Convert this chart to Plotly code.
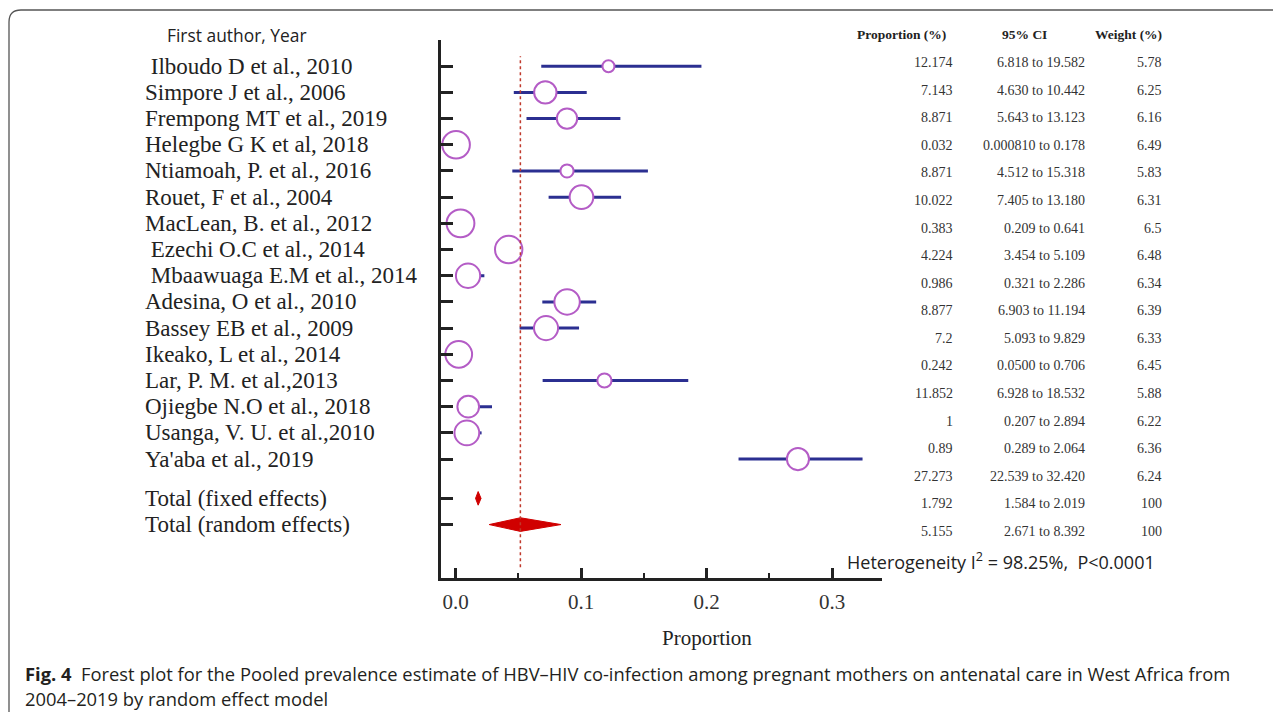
import plotly.graph_objects as go

W, H = 1281, 712
OFF = 8  # default page margin around the plot div

# study rows, top to bottom (values as printed in the table, in %)
studies = [
    " Ilboudo D et al., 2010",
    "Simpore J et al., 2006",
    "Frempong MT et al., 2019",
    "Helegbe G K et al, 2018",
    "Ntiamoah, P. et al., 2016",
    "Rouet, F et al., 2004",
    "MacLean, B. et al., 2012",
    " Ezechi O.C et al., 2014",
    " Mbaawuaga E.M et al., 2014",
    "Adesina, O et al., 2010",
    "Bassey EB et al., 2009",
    "Ikeako, L et al., 2014",
    "Lar, P. M. et al.,2013",
    "Ojiegbe N.O et al., 2018",
    "Usanga, V. U. et al.,2010",
    "Ya'aba et al., 2019",
]
prop_pct = ["12.174", "7.143", "8.871", "0.032", "8.871", "10.022", "0.383", "4.224",
            "0.986", "8.877", "7.2", "0.242", "11.852", "1", "0.89", "27.273"]
ci_low = ["6.818", "4.630", "5.643", "0.000810", "4.512", "7.405", "0.209", "3.454",
          "0.321", "6.903", "5.093", "0.0500", "6.928", "0.207", "0.289", "22.539"]
ci_high = ["19.582", "10.442", "13.123", "0.178", "15.318", "13.180", "0.641", "5.109",
           "2.286", "11.194", "9.829", "0.706", "18.532", "2.894", "2.064", "32.420"]
weight_pct = ["5.78", "6.25", "6.16", "6.49", "5.83", "6.31", "6.5", "6.48",
              "6.34", "6.39", "6.33", "6.45", "5.88", "6.22", "6.36", "6.24"]

total_labels = ["Total (fixed effects)", "Total (random effects)"]
total_prop = ["1.792", "5.155"]
total_low = ["1.584", "2.671"]
total_high = ["2.019", "8.392"]
total_weight = ["100", "100"]

x_ticks = [0.0, 0.1, 0.2, 0.3]
x_tick_labels = ["0.0", "0.1", "0.2", "0.3"]
x_minor_ticks = [0.05, 0.15, 0.25]

heterogeneity = "Heterogeneity I<sup>2</sup> = 98.25%,  P<0.0001"
caption_1 = ("<b>Fig. 4</b>  Forest plot for the Pooled prevalence estimate of HBV\u2013HIV "
             "co-infection among pregnant mothers on antenatal care in West Africa from")
caption_2 = "2004\u20132019 by random effect model"

SERIF = "Liberation Serif"
SANS = "Open Sans"
INK = "#222222"

FW, FH = W - OFF, H - OFF


def px(x):
    return (x - OFF) / FW


def py(y):
    return 1 - (y - OFF) / FH


def frac(s):
    return float(s) / 100


n = len(studies)
rows = list(range(1, n + 1))
total_rows = [n + 1.5, n + 2.5]

fig = go.Figure()

# confidence interval bars
xs, ys = [], []
for r, lo, hi in zip(rows, ci_low, ci_high):
    xs += [frac(lo), frac(hi), None]
    ys += [r, r, None]
fig.add_trace(go.Scatter(x=xs, y=ys, mode="lines",
                         line=dict(color="#2b2f91", width=3), hoverinfo="skip"))

# point estimates, sized by weight
fig.add_trace(go.Scatter(
    x=[frac(p) for p in prop_pct], y=rows, mode="markers",
    marker=dict(symbol="circle", color="white", opacity=1,
                size=[12 + (float(w) - 5.78) * 22 for w in weight_pct],
                line=dict(color="#b45cc6", width=2)),
    text=studies, hoverinfo="text+x",
))

# pooled diamonds
for r, est, lo, hi in zip(total_rows, total_prop, total_low, total_high):
    h = 0.26
    fig.add_trace(go.Scatter(
        x=[frac(lo), frac(est), frac(hi), frac(est), frac(lo)],
        y=[r, r - h, r, r + h, r], mode="lines", fill="toself",
        fillcolor="#d00000", line=dict(color="#d00000", width=1), hoverinfo="skip",
    ))

# random-effects reference line
fig.add_shape(type="line", xref="x", yref="y domain",
              x0=frac(total_prop[1]), x1=frac(total_prop[1]), y0=0.02, y1=0.97,
              line=dict(color="#c0392b", width=1.5, dash="dot"))

annotations = []

# study labels
for r, s in zip(rows + total_rows, studies + total_labels):
    annotations.append(dict(x=px(143), xref="paper", y=r, yref="y", text=s,
                            xanchor="left", yanchor="middle", showarrow=False,
                            font=dict(family=SERIF, size=23, color=INK)))
annotations.append(dict(x=px(165), xref="paper", y=py(35), yref="paper",
                        text="First author, Year", xanchor="left", yanchor="middle",
                        showarrow=False, font=dict(family=SANS, size=17.4, color=INK)))

# table on the right
col_right = [955, 1087, 1164]
headers = ["Proportion (%)", "95% CI", "Weight (%)"]
header_right = [948, 1049, 1164]
for xr, t in zip(header_right, headers):
    annotations.append(dict(x=px(xr), xref="paper", y=py(35), yref="paper",
                            text=f"<b>{t}</b>", xanchor="right", yanchor="middle",
                            showarrow=False, font=dict(family=SERIF, size=13.5, color=INK)))
all_prop = prop_pct + total_prop
all_ci = [f"{a} to {b}" for a, b in zip(ci_low + total_low, ci_high + total_high)]
all_w = weight_pct + total_weight
for i, (p, c, w) in enumerate(zip(all_prop, all_ci, all_w)):
    for xr, t in zip(col_right, (p, c, w)):
        annotations.append(dict(x=px(xr), xref="paper", y=i + 1, yref="y2", text=t,
                                xanchor="right", yanchor="middle", showarrow=False,
                                font=dict(family=SERIF, size=14, color="#333333")))

annotations.append(dict(x=px(845), xref="paper", y=py(561), yref="paper", text=heterogeneity,
                        xanchor="left", yanchor="middle", showarrow=False,
                        font=dict(family=SANS, size=18, color=INK)))

# axis title
annotations.append(dict(x=0.2, xref="x", y=py(638), yref="paper", text="Proportion",
                        xanchor="center", yanchor="middle", showarrow=False,
                        font=dict(family=SERIF, size=21, color=INK)))

# caption
annotations.append(dict(x=px(23), xref="paper", y=py(673), yref="paper", text=caption_1,
                        xanchor="left", yanchor="middle", showarrow=False,
                        font=dict(family=SANS, size=18.35, color="#231f20")))
annotations.append(dict(x=px(23), xref="paper", y=py(698), yref="paper", text=caption_2,
                        xanchor="left", yanchor="middle", showarrow=False,
                        font=dict(family=SANS, size=18.35, color="#231f20")))

# figure frame with rounded top-left corner
x0, y0, rad = px(9), py(10), 12
frame = (f"M {x0},0 L {x0},{py(10 + rad)} "
         f"Q {x0},{y0} {px(9 + rad)},{y0} L 1,{y0}")
fig.add_shape(type="path", xref="paper", yref="paper", path=frame,
              line=dict(color="#555555", width=1.3))

fig.update_layout(
    width=FW, height=FH,
    margin=dict(l=0, r=0, t=0, b=0),
    paper_bgcolor="white", plot_bgcolor="white",
    showlegend=False,
    annotations=annotations,
    xaxis=dict(
        domain=[px(441), px(882)], range=[-0.0117, 0.3397],
        tickvals=x_ticks, ticktext=x_tick_labels,
        ticks="inside", ticklen=10, tickwidth=2.5, tickcolor=INK,
        minor=dict(tickvals=x_minor_ticks, ticks="inside", ticklen=5,
                   tickwidth=2, tickcolor=INK),
        showline=True, linewidth=2.5, linecolor=INK,
        showgrid=False, zeroline=False,
        tickfont=dict(family=SERIF, size=21, color="#333333"),
        ticklabelstandoff=3,
    ),
    yaxis=dict(
        domain=[py(578), py(40)], range=[20.54, 0.0],
        tickvals=rows + total_rows, showticklabels=False,
        ticks="inside", ticklen=12, tickwidth=2.5, tickcolor=INK,
        showline=True, linewidth=2.5, linecolor=INK,
        showgrid=False, zeroline=False,
    ),
    yaxis2=dict(
        domain=[py(578), py(40)], range=[19.684, 0.1845],
        overlaying="y", visible=False,
    ),
)

fig.write_html("out.html")
